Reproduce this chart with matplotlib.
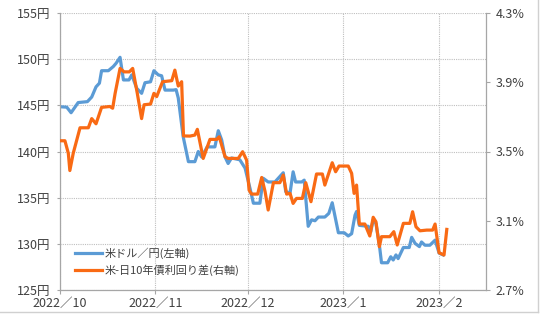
import numpy as np
import pandas as pd
import matplotlib
matplotlib.use('Agg')
import matplotlib.pyplot as plt
from matplotlib.lines import Line2D

plt.rcParams['font.family'] = ['Noto Sans CJK JP', 'DejaVu Sans']

# values; x given as days since 2022/10/1
usd_days = [0.0, 2.2, 3.6, 5.9, 8.9, 10.3, 11.7, 12.8, 13.5, 15.7, 17.3, 18.2, 19.5,
            20.6, 22.4, 23.3, 24.9, 26.5, 27.6, 29.4, 30.5, 31.9, 33.0, 34.1, 36.8,
            37.7, 38.4, 40.0, 41.7, 43.8, 44.9, 46.0, 47.8, 50.3, 51.4, 52.5, 53.6,
            54.6, 55.7, 58.4, 60.1, 61.7, 62.8, 64.9, 66.0, 67.6, 69.8, 72.5, 73.3,
            74.7, 75.7, 76.5, 78.5, 79.3, 80.6, 81.7, 82.8, 83.9, 86.0, 87.3, 88.4,
            90.4, 92.3, 93.6, 94.7, 95.8, 96.3, 97.2, 100.1, 100.9, 101.7, 102.6,
            103.7, 104.4, 106.4, 107.4, 108.2, 109.1, 109.8, 111.5, 113.4, 114.2,
            115.3, 116.7, 117.4, 118.5, 120.1, 121.8, 123.1, 124.4]
usd_jpy = [144.85, 144.8, 144.2, 145.3, 145.4, 145.9, 147.0, 147.4, 148.75, 148.75,
           149.2, 149.55, 150.2, 147.75, 147.75, 148.3, 146.85, 146.3, 147.45, 147.55,
           148.75, 148.3, 148.2, 146.65, 146.65, 146.7, 145.8, 141.6, 138.9, 138.9,
           140.0, 139.4, 140.5, 140.5, 142.25, 141.25, 139.4, 138.7, 139.3, 139.1,
           138.2, 136.0, 134.4, 134.4, 137.1, 136.7, 136.7, 137.7, 135.65, 135.5,
           137.8, 136.7, 136.7, 136.9, 131.9, 132.6, 132.5, 132.9, 132.9, 133.3,
           134.45, 131.2, 131.2, 130.85, 131.1, 133.1, 133.5, 132.0, 131.9, 131.3,
           132.6, 132.2, 129.9, 127.95, 127.95, 128.6, 128.25, 128.8, 128.4, 129.6,
           129.6, 130.7, 130.05, 129.7, 130.2, 129.85, 129.85, 130.4, 129.0, 128.8]

spread_days = [0.0, 1.6, 2.7, 3.2, 4.3, 6.5, 9.2, 10.3, 11.7, 13.5, 16.2, 17.1, 17.9,
               19.5, 20.8, 22.5, 23.6, 25.1, 26.5, 27.3, 29.4, 30.5, 31.4, 33.3, 36.3,
               37.3, 38.4, 39.5, 40.1, 42.2, 43.8, 44.6, 46.5, 48.7, 50.9, 51.7, 53.6,
               54.6, 57.9, 59.3, 60.6, 61.4, 62.2, 64.2, 65.5, 66.6, 67.6, 69.3, 71.4,
               72.5, 73.6, 74.7, 75.7, 76.8, 78.7, 79.8, 81.5, 83.3, 85.2, 86.0, 88.4,
               89.5, 90.6, 93.6, 94.7, 95.5, 96.3, 97.2, 99.0, 100.6, 101.7, 102.6,
               103.7, 104.4, 107.1, 108.4, 109.5, 111.5, 113.6, 114.5, 115.6, 116.9,
               119.1, 121.0, 121.8, 123.1, 124.7, 125.6]
spread = [3.562, 3.562, 3.49, 3.39, 3.49, 3.637, 3.637, 3.69, 3.66, 3.755, 3.76, 3.75,
          3.836, 3.98, 3.96, 3.96, 3.98, 3.836, 3.69, 3.77, 3.774, 3.836, 3.817, 3.903,
          3.909, 3.97, 3.878, 3.903, 3.59, 3.589, 3.595, 3.628, 3.46, 3.57, 3.57, 3.585,
          3.47, 3.46, 3.46, 3.499, 3.45, 3.277, 3.254, 3.254, 3.35, 3.268, 3.162, 3.32,
          3.32, 3.364, 3.254, 3.258, 3.2, 3.229, 3.229, 3.32, 3.21, 3.37, 3.37, 3.306,
          3.435, 3.383, 3.416, 3.416, 3.374, 3.258, 3.306, 3.081, 3.081, 3.012, 3.12,
          3.094, 2.95, 3.008, 3.008, 3.037, 2.96, 3.085, 3.085, 3.152, 3.065, 3.042,
          3.046, 3.046, 3.081, 2.915, 2.902, 3.05]

month_ticks = ['2022-10-01', '2022-11-01', '2022-12-01', '2023-01-01', '2023-02-01']
month_labels = ['2022／10', '2022／11', '2022／12', '2023／1', '2023／2']
yen_ticks = [125, 130, 135, 140, 145, 150, 155]
pct_ticks = [2.7, 3.1, 3.5, 3.9, 4.3]

base = pd.Timestamp('2022-10-01')
usd_x = base + pd.to_timedelta(usd_days, unit='D')
spread_x = base + pd.to_timedelta(spread_days, unit='D')

blue = '#5B9BD5'
orange = '#F96A14'
gray = '#A6A6A6'
txt = '#404040'

fig = plt.figure(figsize=(5.4, 3.22), dpi=100)
ax = fig.add_axes([60/540, 1-290/322, 426/540, 277/322])
ax2 = ax.twinx()

ax.plot(usd_x, usd_jpy, color=blue, lw=2.3, solid_joinstyle='round')
ax2.plot(spread_x, spread, color=orange, lw=2.3, solid_joinstyle='round')

ax.set_xlim(base, pd.Timestamp('2023-02-16 08:00'))
ax.set_ylim(125, 155)
ax2.set_ylim(2.7, 4.3)

ax.set_xticks(pd.to_datetime(month_ticks))
ax.set_xticklabels(month_labels)
ax.set_yticks(yen_ticks)
ax.set_yticklabels([f'{v}円' for v in yen_ticks])
ax2.set_yticks(pct_ticks)
ax2.set_yticklabels([f'{v:.1f}%' for v in pct_ticks])

ax.grid(True, color='#BFBFBF', ls=(0, (1, 1)), lw=0.8)
ax.set_axisbelow(True)

for a in (ax, ax2):
    for s in a.spines.values():
        s.set_color(gray)
        s.set_linewidth(0.9)
    a.spines['top'].set_visible(False)
ax.spines['right'].set_visible(False)
ax2.spines['left'].set_visible(False)
ax2.spines['bottom'].set_visible(False)

ax.tick_params(axis='y', length=2, color=gray, labelsize=9, labelcolor=txt, pad=5)
ax.tick_params(axis='x', length=3, color=gray, labelsize=9, labelcolor=txt, pad=2)
ax2.tick_params(axis='y', length=3, color=gray, labelsize=9, labelcolor=txt, pad=4)

handles = [Line2D([], [], color=blue, lw=2.3), Line2D([], [], color=orange, lw=2.3)]
ax2.legend(handles, ['米ドル／円(左軸)', '米-日10年債利回り差(右軸)'],
           loc='lower left', bbox_to_anchor=(0.035, 0.05), frameon=False,
           fontsize=8, handlelength=2.4, handletextpad=0.25, labelspacing=0.55,
           borderpad=0, borderaxespad=0, labelcolor=txt)

# thin frame lines at the right and bottom edge of the picture
fig.add_artist(Line2D([538/540, 538/540], [1-312/322, 1], color='#D0D0D0', lw=1))
fig.add_artist(Line2D([0, 538/540], [1-312/322, 1-312/322], color='#D0D0D0', lw=1))

fig.savefig('out.png', dpi=100)
